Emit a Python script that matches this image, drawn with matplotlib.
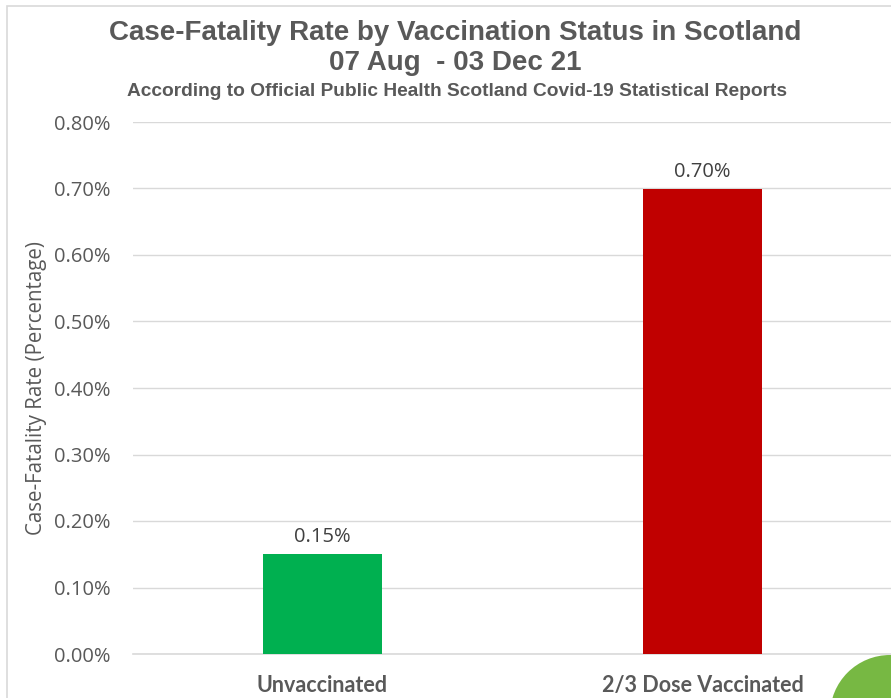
import matplotlib.pyplot as plt
from matplotlib.patches import Rectangle, Ellipse
from matplotlib.ticker import FuncFormatter, MultipleLocator

categories = ['Unvaccinated', '2/3 Dose Vaccinated']
cfr_pct = [0.15, 0.70]
bar_colors = ['#00B050', '#C00000']

title = 'Case-Fatality Rate by Vaccination Status in Scotland'
period = '07 Aug  - 03 Dec 21'
source = 'According to Official Public Health Scotland Covid-19 Statistical Reports'

grey = '#595959'
narrow = ['Liberation Sans', 'DejaVu Sans']
body = ['Open Sans', 'DejaVu Sans']
labels = ['Lato', 'DejaVu Sans']

W, H = 891, 698
fig = plt.figure(figsize=(W / 100, H / 100), dpi=100)

# chart frame (cropped at right / bottom)
fig.patches.append(Rectangle((7 / W, -0.1), 1.2, (H - 6) / H + 0.1,
                             transform=fig.transFigure, fill=False,
                             edgecolor='#D9D9D9', linewidth=1.2))

ax = fig.add_axes([132.5 / W, (H - 654) / H, 760 / W, 532 / H])
x = list(range(len(categories)))
ax.bar(x, cfr_pct, width=0.313, color=bar_colors, zorder=3)

ax.set_xlim(-0.5, 1.5)
ax.set_ylim(0, 0.8)
ax.yaxis.set_major_locator(MultipleLocator(0.1))
ax.yaxis.set_major_formatter(FuncFormatter(lambda v, p: f'{v:.2f}%'))
ax.grid(axis='y', color='#D9D9D9', linewidth=1, zorder=0)
for s in ['top', 'right', 'left']:
    ax.spines[s].set_visible(False)
ax.spines['bottom'].set_color('#D9D9D9')
ax.spines['bottom'].set_linewidth(1.2)
ax.tick_params(axis='both', length=0)
ax.tick_params(axis='y', pad=16, labelsize=14.5, labelcolor=grey)
ax.tick_params(axis='x', pad=15, labelsize=15.5, labelcolor=grey)
for t in ax.get_yticklabels():
    t.set_family(body)
ax.set_xticks(x)
ax.set_xticklabels(categories, family=labels, fontweight='bold')

for xi, v in zip(x, cfr_pct):
    ax.annotate(f'{v:.2f}%', (xi, v), xytext=(0, 5), textcoords='offset points',
                ha='center', va='bottom', fontsize=14.5, color='#404040', family=body)

ax.set_ylabel('Case-Fatality Rate (Percentage)', fontsize=14.8, color=grey, family=body)
ax.yaxis.set_label_coords(-85 / 760, 0.5)

fig.text(455 / W, 1 - 33 / H, title, ha='center', va='center', fontsize=20,
         fontweight='bold', color=grey, family=narrow)
fig.text(455 / W, 1 - 63 / H, period, ha='center', va='center', fontsize=20,
         fontweight='bold', color=grey, family=narrow)
fig.text(457 / W, 1 - 91 / H, source, ha='center', va='center', fontsize=13.8,
         fontweight='bold', color=grey, family=narrow)

# green overlay button in the corner
fig.patches.append(Ellipse((890 / W, -17 / H), 120 / W, 120 / H,
                           transform=fig.transFigure,
                           facecolor='#77B843', edgecolor='none'))

fig.savefig('out.png', dpi=100)
